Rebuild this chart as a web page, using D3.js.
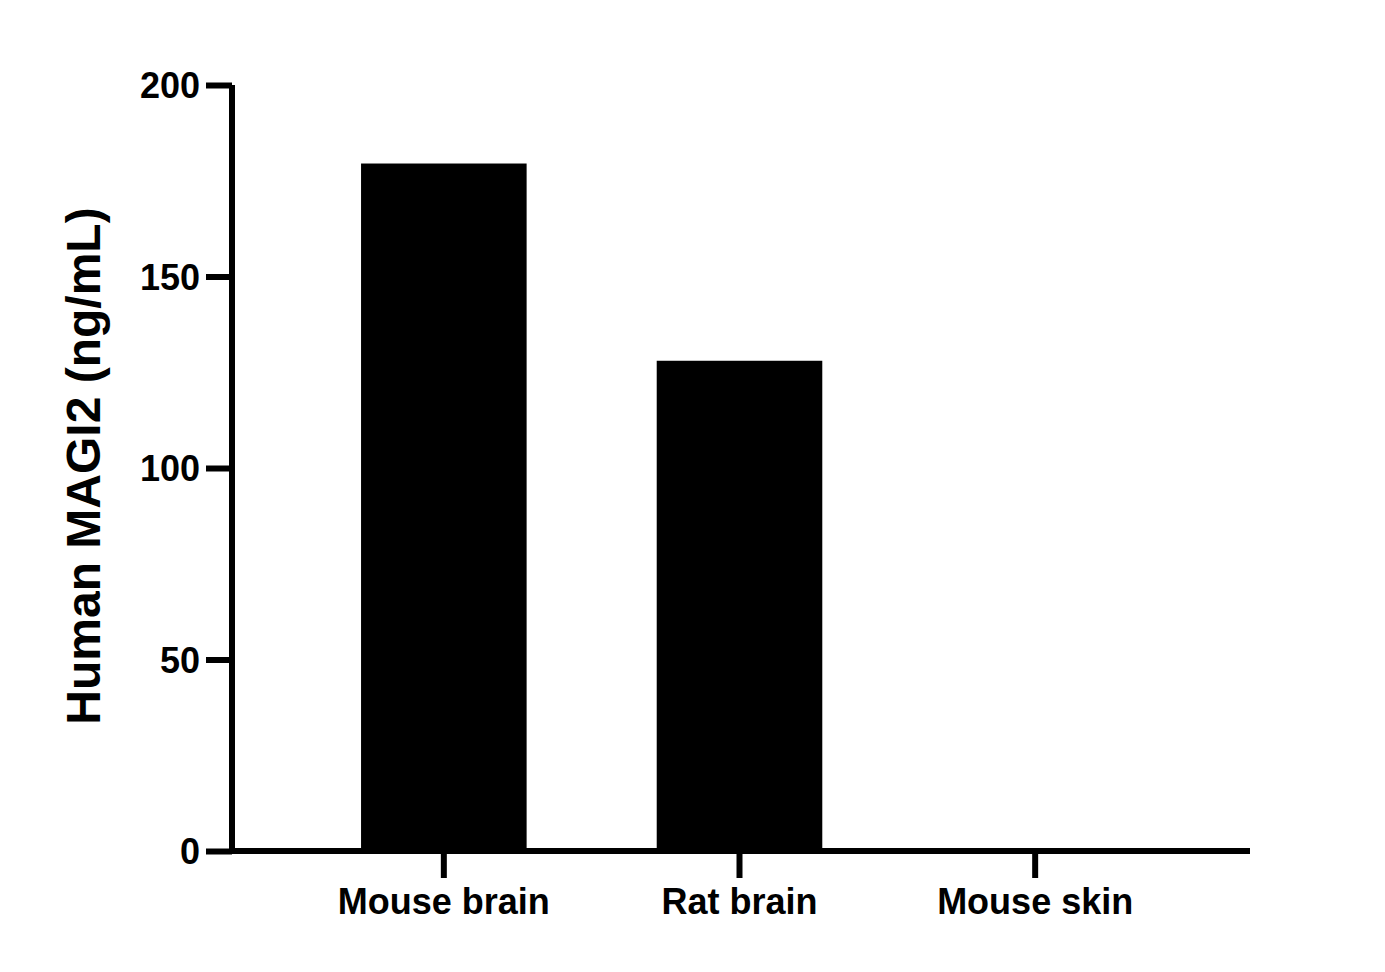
<!DOCTYPE html>
<html>
<head>
<meta charset="utf-8">
<script src="https://cdn.jsdelivr.net/npm/d3@7"></script>
<style>
  body { margin: 0; background: #fff; }
  text { font-family: "Liberation Sans", Arial, sans-serif; font-weight: bold; }
</style>
</head>
<body>
<script>
// data
var categories = ["Mouse brain", "Rat brain", "Mouse skin"];
var values = [179.5, 128, 0];
var yTicks = [0, 50, 100, 150, 200];

var w = 1385, h = 972;
var svg = d3.select("body").append("svg").attr("width", w).attr("height", h);

var y = d3.scaleLinear().domain([0, 200]).range([851, 85]);
var x = d3.scaleBand().domain(categories).range([296, 1183]).paddingInner(0.44).paddingOuter(0.22);

// bars
svg.selectAll("rect.bar")
  .data(values)
  .enter()
  .append("rect")
  .attr("class", "bar")
  .attr("x", function(d, i) { return x(categories[i]); })
  .attr("width", x.bandwidth())
  .attr("y", function(d) { return y(d); })
  .attr("height", function(d) { return 851 - y(d); })
  .attr("fill", "#000");

// y axis
var yAxis = svg.append("g").attr("transform", "translate(232,0)")
  .call(d3.axisLeft(y).tickValues(yTicks).tickSize(26).tickPadding(6));
yAxis.select(".domain").attr("stroke-width", 6).attr("d", "M0," + 85 + "V" + 854);
yAxis.selectAll(".tick line").attr("stroke-width", 6);
yAxis.selectAll(".tick text").attr("font-size", 36).attr("fill", "#000").attr("dy", "0.35em");

// x axis
var xAxis = svg.append("g").attr("transform", "translate(0,851)")
  .call(d3.axisBottom(x).tickSize(27).tickPadding(10));
xAxis.select(".domain").attr("stroke-width", 6).attr("d", "M229,0H1250");
xAxis.selectAll(".tick line").attr("stroke-width", 6);
xAxis.selectAll(".tick text").attr("font-size", 36).attr("fill", "#000");

// y title
svg.append("text")
  .attr("transform", "translate(100,466) rotate(-90)")
  .attr("text-anchor", "middle")
  .attr("font-size", 48)
  .text("Human MAGI2 (ng/mL)");
</script>
</body>
</html>
